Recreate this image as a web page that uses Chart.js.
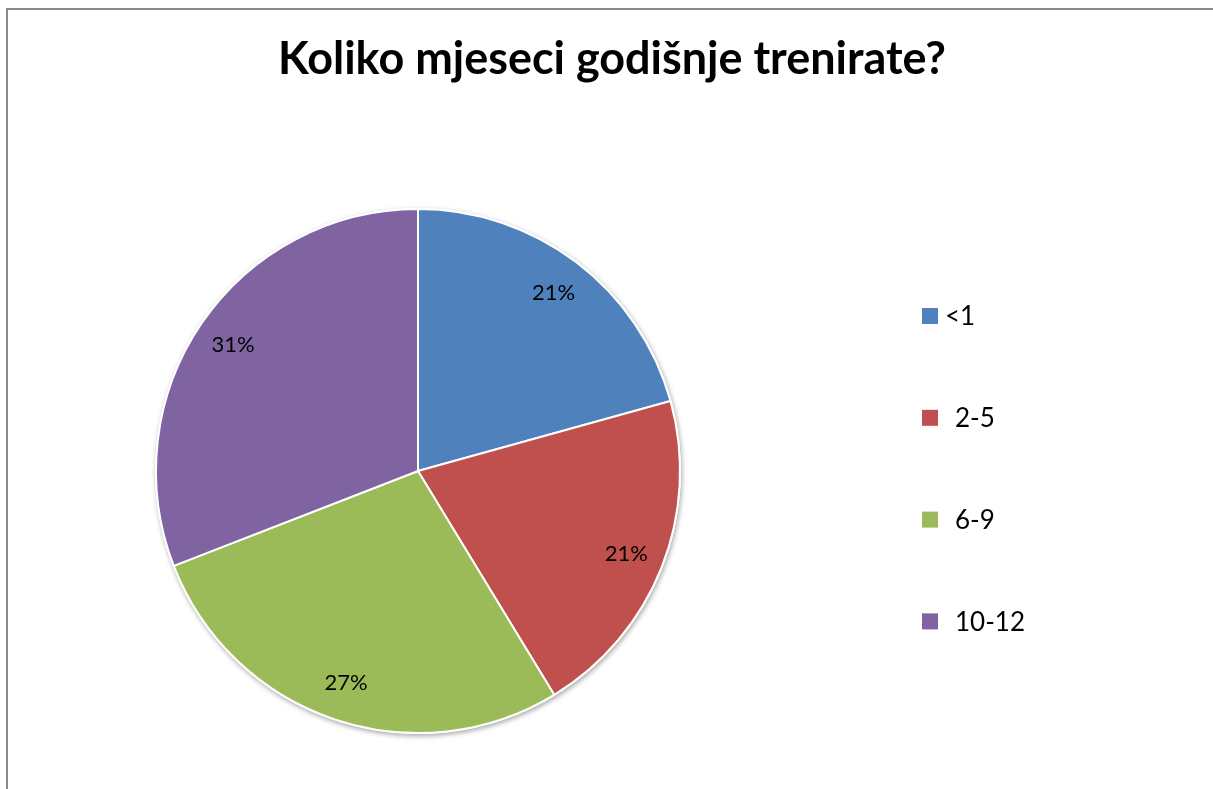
<!DOCTYPE html>
<html>
<head>
<meta charset="utf-8">
<script src="https://cdn.jsdelivr.net/npm/chart.js@4.4.1/dist/chart.umd.min.js"></script>
<style>
  html, body { margin: 0; padding: 0; background: #fff; overflow: hidden; }
  #wrap { position: relative; width: 1213px; height: 789px; }
  #frame {
    position: absolute; left: 6px; top: 8px; right: -10px; bottom: -10px;
    border-left: 2px solid #8a8a8a; border-top: 2px solid #8a8a8a;
  }
  canvas { position: absolute; left: 0; top: 0; }
</style>
</head>
<body>
<div id="wrap">
  <div id="frame"></div>
  <canvas id="pieChart" width="1213" height="789"></canvas>
</div>
<script>
// Data
const chartTitle = 'Koliko mjeseci godišnje trenirate?';
const categories = ['<1', '2-5', '6-9', '10-12'];
const shares = [20.7, 20.6, 27.8, 30.9];          // slice sizes
const shareLabels = ['21%', '21%', '27%', '31%']; // printed labels
const sliceColors = ['#4F81BD', '#C0504D', '#9BBB59', '#8064A2'];

const FONT = 'Lato, "Open Sans", "DejaVu Sans", sans-serif';

// Soft shadow under the pie
const pieShadow = {
    id: 'pieShadow',
    beforeDatasetsDraw(chart) {
        const arc = chart.getDatasetMeta(0).data[0];
        if (!arc) return;
        const ctx = chart.ctx;
        ctx.save();
        ctx.shadowColor = 'rgba(0,0,0,0.35)';
        ctx.shadowBlur = 5;
        ctx.shadowOffsetX = 1;
        ctx.shadowOffsetY = 2;
        ctx.fillStyle = '#ffffff';
        ctx.beginPath();
        ctx.arc(arc.x, arc.y, arc.outerRadius + 1, 0, Math.PI * 2);
        ctx.fill();
        ctx.restore();
    }
};

// Title, percent labels and legend drawn on the canvas
const extras = {
    id: 'extras',
    afterDatasetsDraw(chart) {
        const ctx = chart.ctx;
        const meta = chart.getDatasetMeta(0);

        ctx.save();
        ctx.fillStyle = '#000';
        ctx.textAlign = 'center';
        ctx.textBaseline = 'middle';
        ctx.font = '22px ' + FONT;
        meta.data.forEach((arc, i) => {
            const p = arc.getProps(['x', 'y', 'startAngle', 'endAngle', 'outerRadius'], true);
            const mid = (p.startAngle + p.endAngle) / 2;
            const r = p.outerRadius * 0.855;
            ctx.fillText(shareLabels[i], p.x + Math.cos(mid) * r, p.y + Math.sin(mid) * r);
        });

        // Title
        ctx.font = 'bold 45px ' + FONT;
        ctx.fillText(chartTitle, 612, 59, 668);

        // Legend
        ctx.textAlign = 'left';
        ctx.font = '26px ' + FONT;
        chart.data.labels.forEach((lab, i) => {
            const y = 316 + i * 101.8;
            ctx.fillStyle = chart.data.datasets[0].backgroundColor[i];
            ctx.fillRect(922, y - 8, 16, 16);
            ctx.fillStyle = '#000';
            ctx.fillText(lab, i === 0 ? 945 : 955, y + 1);
        });
        ctx.restore();
    }
};

new Chart(document.getElementById('pieChart'), {
    type: 'pie',
    data: {
        labels: categories,
        datasets: [{
            data: shares,
            backgroundColor: sliceColors,
            borderColor: '#ffffff',
            borderWidth: 2
        }]
    },
    options: {
        responsive: false,
        animation: false,
        layout: { padding: { left: 155, right: 532, top: 208, bottom: 55 } },
        plugins: {
            legend: { display: false },
            title: { display: false },
            tooltip: { enabled: false }
        }
    },
    plugins: [pieShadow, extras]
});
</script>
</body>
</html>
